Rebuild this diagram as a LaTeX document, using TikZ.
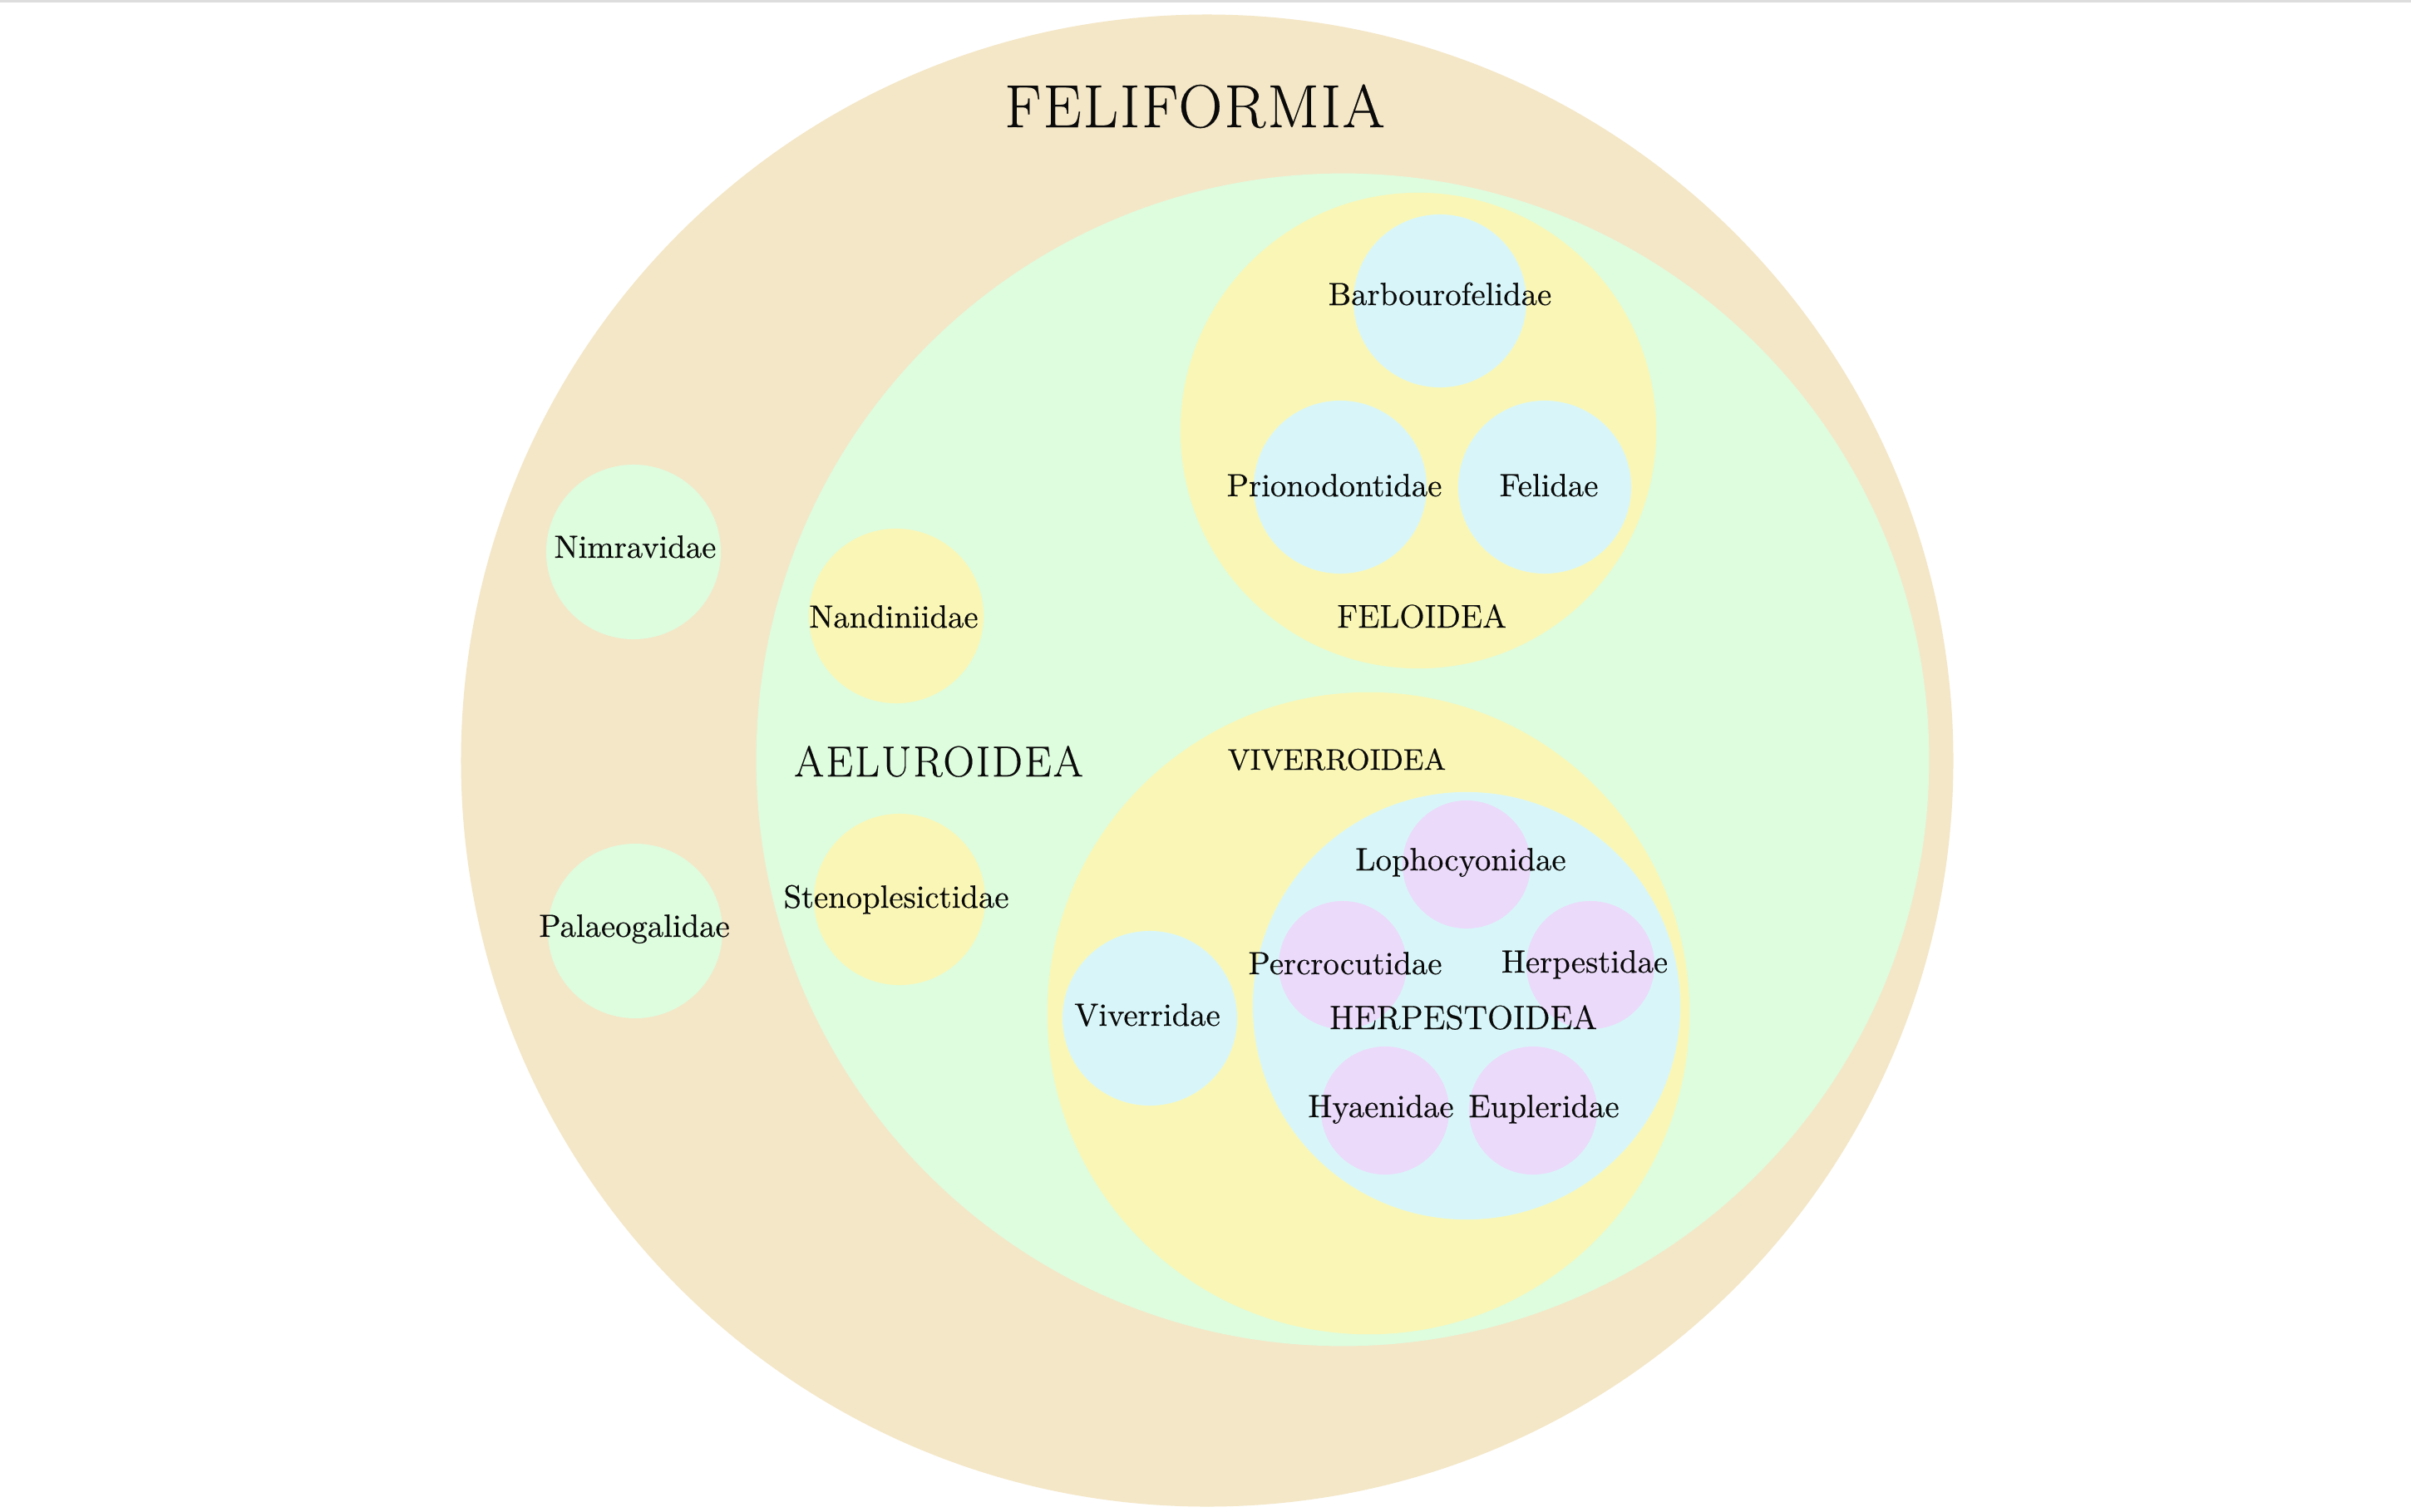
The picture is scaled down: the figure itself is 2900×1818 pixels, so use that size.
\documentclass[tikz,border=0pt]{standalone}
\usepackage{fontspec}
\setmainfont{Latin Modern Roman}[FakeBold=0.35]
\definecolor{tanc}{HTML}{F4E7C7}
\definecolor{greenc}{HTML}{DEFCDE}
\definecolor{yellowc}{HTML}{FAF7B6}
\definecolor{bluec}{HTML}{D8F6F9}
\definecolor{purplec}{HTML}{EBDAFA}
\definecolor{textc}{HTML}{0A0A0A}
\definecolor{linec}{HTML}{DDDDDD}
\begin{document}
\begin{tikzpicture}[x=0.01cm,y=-0.01cm,
  blob/.style={circle, fill=#1, draw=none, inner sep=0pt, outer sep=0pt},
  lab/.style={inner sep=0pt, anchor=base, text=textc, font=\fontsize{11}{13}\selectfont},
  big/.style={inner sep=0pt, anchor=base, text=textc, font=\fontsize{#1}{#1}\selectfont}]
\useasboundingbox (0,0) rectangle (2900,1818);
\fill[white] (0,0) rectangle (2900,1818);
\fill[linec] (0,0) rectangle (2900,3);
% superfamily circles
\node[blob=tanc, minimum size=17.94cm] (feliformia) at (1452,915) {};
\node[blob=greenc, minimum size=14.10cm] (aeluroidea) at (1615,914) {};
\node[blob=yellowc, minimum size=5.72cm] (feloidea) at (1706,518) {};
\node[blob=yellowc, minimum size=7.72cm] (viverroidea) at (1646,1219) {};
\node[blob=bluec, minimum size=5.14cm] (herpestoidea) at (1764,1210) {};
% family circles
\node[blob=bluec, minimum size=2.08cm] (barbourofelidae) at (1732,362) {};
\node[blob=bluec, minimum size=2.08cm] (prionodontidae) at (1612,586) {};
\node[blob=bluec, minimum size=2.08cm] (felidae) at (1858,586) {};
\node[blob=greenc, minimum size=2.10cm] (nimravidae) at (762,664) {};
\node[blob=greenc, minimum size=2.10cm] (palaeogalidae) at (764,1120) {};
\node[blob=yellowc, minimum size=2.10cm] (nandiniidae) at (1078,741) {};
\node[blob=yellowc, minimum size=2.06cm] (stenoplesictidae) at (1082,1082) {};
\node[blob=bluec, minimum size=2.10cm] (viverridae) at (1383,1225) {};
\node[blob=purplec, minimum size=1.54cm] (lophocyonidae) at (1764,1040) {};
\node[blob=purplec, minimum size=1.54cm] (percrocutidae) at (1615,1161) {};
\node[blob=purplec, minimum size=1.54cm] (herpestidae) at (1913,1161) {};
\node[blob=purplec, minimum size=1.54cm] (hyaenidae) at (1666,1336) {};
\node[blob=purplec, minimum size=1.54cm] (eupleridae) at (1844,1336) {};
% labels
\node[big=20.8] (tFeliformia) at (1437,153) {\addfontfeature{LetterSpace=3}FELIFORMIA};
\node[big=14.8] (tAeluroidea) at (1129,934) {\addfontfeature{LetterSpace=4}AELUROIDEA};
\node[big=11.2] (tFeloidea) at (1710,755) {FELOIDEA};
\node[big=10.2] (tViverroidea) at (1608,926) {VIVERROIDEA};
\node[big=11.5] (tHerpestoidea) at (1760,1238) {HERPESTOIDEA};
\node[lab] (tBarbourofelidae) at (1732,367) {Barbourofelidae};
\node[lab] (tPrionodontidae) at (1605,597) {Prionodontidae};
\node[lab] (tFelidae) at (1863,597) {Felidae};
\node[lab] (tNimravidae) at (764,671) {Nimravidae};
\node[lab] (tNandiniidae) at (1075,755) {Nandiniidae};
\node[lab] (tPalaeogalidae) at (763,1127) {Palaeogalidae};
\node[lab] (tStenoplesictidae) at (1078,1092) {Stenoplesictidae};
\node[lab] (tViverridae) at (1380,1234) {Viverridae};
\node[lab] (tLophocyonidae) at (1757,1047) {Lophocyonidae};
\node[lab] (tPercrocutidae) at (1618,1172) {Percrocutidae};
\node[lab] (tHerpestidae) at (1906,1170) {Herpestidae};
\node[lab] (tHyaenidae) at (1661,1344) {Hyaenidae};
\node[lab] (tEupleridae) at (1857,1344) {Eupleridae};
\end{tikzpicture}
\end{document}
